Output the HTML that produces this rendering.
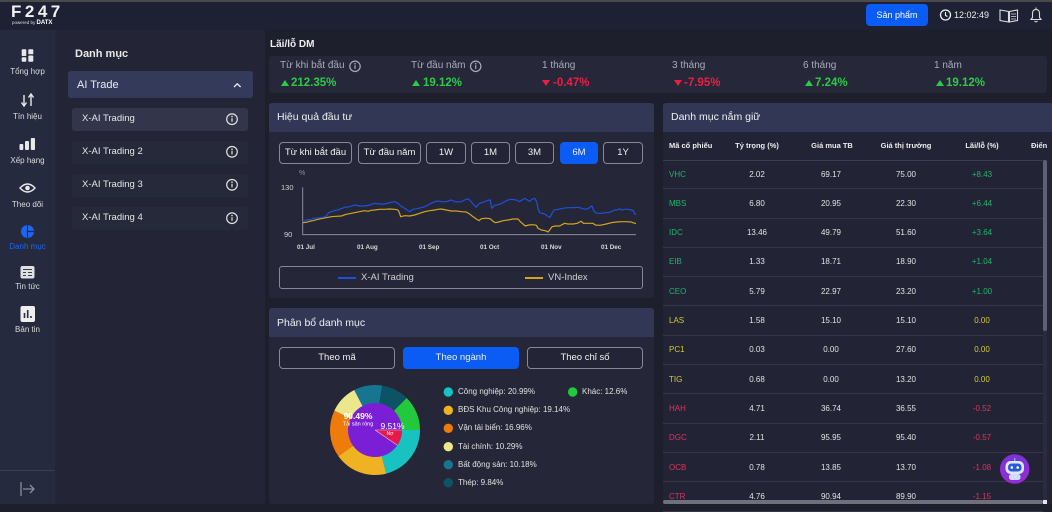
<!DOCTYPE html>
<html><head><meta charset="utf-8">
<style>
*{margin:0;padding:0;box-sizing:border-box}
body{width:1052px;height:504px;overflow:hidden;background:#1d1f2d;font-family:"Liberation Sans","Noto Sans CJK SC",sans-serif;color:#e6e6e6;position:relative}
.a{position:absolute}
.t{position:absolute;white-space:nowrap;height:12px;line-height:12px}
.c{text-align:center}
.btn{position:absolute;border:1px solid #858896;border-radius:4px;color:#f0f0f0;font-size:9.5px;text-align:center;background:#232536}
.blue{background:#0b5cf4;border-color:#0b5cf4}
.tri-up{position:absolute;width:0;height:0;border-left:4px solid transparent;border-right:4px solid transparent;border-bottom:6px solid #2bcb47}
.tri-dn{position:absolute;width:0;height:0;border-left:4px solid transparent;border-right:4px solid transparent;border-top:6px solid #ee1d45}
.g{color:#2bcb47}.r{color:#ee1d45}
.sb{font-size:8px;color:#dcdcdc;width:55px;text-align:center;left:0}
.item{position:absolute;left:72px;width:176px;height:23px;border-radius:3px;background:#262939}
.row{position:absolute;left:663px;width:380px;height:29.3px;border-bottom:1px solid #343749}
.row div{position:absolute;top:8.6px;height:12px;line-height:12px;font-size:8px;white-space:nowrap}
.row .s{left:6px}
.row .n1{left:64px;width:60px;text-align:center;color:#e2e2e2}
.row .n2{left:138px;width:60px;text-align:center;color:#e2e2e2}
.row .n3{left:213px;width:60px;text-align:center;color:#e2e2e2}
.row .n4{left:289px;width:60px;text-align:center}
.tg{color:#1db46d}.ty{color:#d2cc2b}.tr{color:#e0325a}
.th{position:absolute;top:140px;height:12px;line-height:12px;font-size:7.5px;font-weight:bold;color:#ececec;white-space:nowrap}
.lg{position:absolute;font-size:8px;color:#e0e0e0;white-space:nowrap;height:12px;line-height:12px}
</style></head><body>

<!-- top bar -->
<div class="a" style="left:0;top:0;width:1052px;height:30px;background:#1e2134;border-top:2px solid #4a4a4a"></div>
<div class="t" style="left:11px;top:2px;height:20px;line-height:20px;font-size:17px;font-weight:bold;letter-spacing:3.5px;color:#f2f2f2">F247</div>
<div class="t" style="left:12px;top:17px;font-size:4.5px;color:#ddd">powered by <b style="font-size:6px;color:#fff">DATX</b></div>
<div class="a" style="left:866px;top:4px;width:62px;height:22px;background:#0b5cf4;border-radius:4px;font-size:9px;line-height:22px;text-align:center;color:#fff">Sản phẩm</div>
<div class="t" style="left:954px;top:9px;font-size:9px;color:#eee">12:02:49</div>

<!-- sidebar -->
<div class="a" style="left:0;top:30px;width:55px;height:474px;background:#262a3e"></div>
<div class="a" style="left:55px;top:30px;width:210px;height:474px;background:#232536"></div>
<div class="a" style="left:0;top:470px;width:55px;height:1px;background:#3b3e52"></div>
<div class="t sb" style="top:66px">Tổng hợp</div>
<div class="t sb" style="top:111px">Tín hiệu</div>
<div class="t sb" style="top:155px">Xếp hạng</div>
<div class="t sb" style="top:199px">Theo dõi</div>
<div class="t sb" style="top:241px;color:#1a66f5">Danh mục</div>
<div class="t sb" style="top:281px">Tin tức</div>
<div class="t sb" style="top:324px">Bản tin</div>

<!-- left panel -->
<div class="t" style="left:75px;top:48px;font-size:11px;font-weight:bold;color:#e8e8e8">Danh mục</div>
<div class="a" style="left:68px;top:71px;width:185px;height:27px;background:#343a5a;border-radius:3px"></div>
<div class="t" style="left:77px;top:79px;font-size:11px;color:#ececec">AI Trade</div>
<div class="item" style="top:108px;background:#33364a"></div>
<div class="item" style="top:141px"></div>
<div class="item" style="top:174px"></div>
<div class="item" style="top:207px"></div>
<div class="t" style="left:82px;top:113px;font-size:9.5px;color:#e6e6e6">X-AI Trading</div>
<div class="t" style="left:82px;top:146px;font-size:9.5px;color:#e6e6e6">X-AI Trading 2</div>
<div class="t" style="left:82px;top:179px;font-size:9.5px;color:#e6e6e6">X-AI Trading 3</div>
<div class="t" style="left:82px;top:212px;font-size:9.5px;color:#e6e6e6">X-AI Trading 4</div>

<!-- Lai lo DM -->
<div class="t" style="left:270px;top:39px;font-size:10px;font-weight:bold;color:#eee">Lãi/lỗ DM</div>
<div class="a" style="left:269px;top:56px;width:778px;height:37px;background:#262839;border-radius:3px"></div>
<div class="t" style="left:280px;top:60px;font-size:10px;color:#a9acb8">Từ khi bắt đầu</div>
<div class="t" style="left:411px;top:60px;font-size:10px;color:#a9acb8">Từ đầu năm</div>
<div class="t" style="left:542px;top:60px;font-size:10px;color:#a9acb8">1 tháng</div>
<div class="t" style="left:672px;top:60px;font-size:10px;color:#a9acb8">3 tháng</div>
<div class="t" style="left:803px;top:60px;font-size:10px;color:#a9acb8">6 tháng</div>
<div class="t" style="left:934px;top:60px;font-size:10px;color:#a9acb8">1 năm</div>
<div class="tri-up" style="left:281px;top:80px"></div>
<div class="t g" style="left:291px;top:77px;font-size:11.5px;font-weight:bold">212.35%</div>
<div class="tri-up" style="left:412px;top:80px"></div>
<div class="t g" style="left:423px;top:77px;font-size:11.5px;font-weight:bold">19.12%</div>
<div class="tri-dn" style="left:542px;top:80px"></div>
<div class="t r" style="left:553px;top:77px;font-size:11.5px;font-weight:bold">-0.47%</div>
<div class="tri-dn" style="left:674px;top:80px"></div>
<div class="t r" style="left:684px;top:77px;font-size:11.5px;font-weight:bold">-7.95%</div>
<div class="tri-up" style="left:805px;top:80px"></div>
<div class="t g" style="left:815px;top:77px;font-size:11.5px;font-weight:bold">7.24%</div>
<div class="tri-up" style="left:936px;top:80px"></div>
<div class="t g" style="left:946px;top:77px;font-size:11.5px;font-weight:bold">19.12%</div>

<!-- Hieu qua dau tu -->
<div class="a" style="left:269px;top:103px;width:385px;height:195px;background:#252738;border-radius:3px"></div>
<div class="a" style="left:269px;top:103px;width:385px;height:29px;background:#333756;border-radius:3px 3px 0 0"></div>
<div class="t" style="left:277px;top:111px;font-size:10.5px;color:#f0f0f0">Hiệu quả đầu tư</div>
<div class="btn" style="left:279px;top:142px;width:73px;height:22px;line-height:20px">Từ khi bắt đầu</div>
<div class="btn" style="left:358px;top:142px;width:63px;height:22px;line-height:20px">Từ đầu năm</div>
<div class="btn" style="left:426px;top:142px;width:40px;height:22px;line-height:20px">1W</div>
<div class="btn" style="left:471px;top:142px;width:39px;height:22px;line-height:20px">1M</div>
<div class="btn" style="left:515px;top:142px;width:39px;height:22px;line-height:20px">3M</div>
<div class="btn blue" style="left:560px;top:142px;width:38px;height:22px;line-height:20px">6M</div>
<div class="btn" style="left:603px;top:142px;width:40px;height:22px;line-height:20px">1Y</div>
<div class="t" style="left:299px;top:168px;font-size:7px;color:#8d909c">%</div>
<div class="t" style="left:281px;top:182px;font-size:7.5px;color:#d0d0d0">130</div>
<div class="t" style="left:284px;top:229px;font-size:7.5px;color:#d0d0d0">90</div>
<div class="t" style="left:297px;top:242px;font-size:6.3px;font-weight:bold;color:#d8d8d8">01 Jul</div>
<div class="t" style="left:357px;top:242px;font-size:6.3px;font-weight:bold;color:#d8d8d8">01 Aug</div>
<div class="t" style="left:419px;top:242px;font-size:6.3px;font-weight:bold;color:#d8d8d8">01 Sep</div>
<div class="t" style="left:480px;top:242px;font-size:6.3px;font-weight:bold;color:#d8d8d8">01 Oct</div>
<div class="t" style="left:541px;top:242px;font-size:6.3px;font-weight:bold;color:#d8d8d8">01 Nov</div>
<div class="t" style="left:601px;top:242px;font-size:6.3px;font-weight:bold;color:#d8d8d8">01 Dec</div>
<div class="a" style="left:279px;top:266px;width:364px;height:23px;border:1px solid #858896;border-radius:3px"></div>
<div class="a" style="left:338px;top:277px;width:18px;height:1.5px;background:#1f50d8"></div>
<div class="t" style="left:361px;top:272px;font-size:9.5px;color:#cfcfcf">X-AI Trading</div>
<div class="a" style="left:525px;top:277px;width:18px;height:1.5px;background:#d4a51c"></div>
<div class="t" style="left:548px;top:272px;font-size:9.5px;color:#cfcfcf">VN-Index</div>

<!-- Phan bo danh muc -->
<div class="a" style="left:269px;top:308px;width:385px;height:196px;background:#252738;border-radius:3px"></div>
<div class="a" style="left:269px;top:308px;width:385px;height:29px;background:#333756;border-radius:3px 3px 0 0"></div>
<div class="t" style="left:277px;top:317px;font-size:10.5px;color:#f0f0f0">Phân bổ danh mục</div>
<div class="btn" style="left:279px;top:347px;width:116px;height:22px;line-height:20px">Theo mã</div>
<div class="btn blue" style="left:403px;top:347px;width:116px;height:22px;line-height:20px">Theo ngành</div>
<div class="btn" style="left:527px;top:347px;width:116px;height:22px;line-height:20px">Theo chỉ số</div>
<div class="lg" style="left:458px;top:386px">Công nghiệp: 20.99%</div>
<div class="lg" style="left:458px;top:404px">BĐS Khu Công nghiệp: 19.14%</div>
<div class="lg" style="left:458px;top:422px">Vận tải biển: 16.96%</div>
<div class="lg" style="left:458px;top:441px">Tài chính: 10.29%</div>
<div class="lg" style="left:458px;top:459px">Bất động sản: 10.18%</div>
<div class="lg" style="left:458px;top:477px">Thép: 9.84%</div>
<div class="lg" style="left:582px;top:386px">Khác: 12.6%</div>

<!-- Danh muc nam giu -->
<div class="a" style="left:663px;top:103px;width:389px;height:401px;background:#222435;border-radius:3px 0 0 0"></div>
<div class="a" style="left:663px;top:103px;width:389px;height:29px;background:#333756;border-radius:3px 0 0 0"></div>
<div class="t" style="left:671px;top:111px;font-size:10.5px;color:#f0f0f0">Danh mục nắm giữ</div>
<div class="th" style="left:669px">Mã cổ phiếu</div>
<div class="th" style="left:717px;width:80px;text-align:center">Tỷ trọng (%)</div>
<div class="th" style="left:792px;width:80px;text-align:center">Giá mua TB</div>
<div class="th" style="left:866px;width:80px;text-align:center">Giá thị trường</div>
<div class="th" style="left:942px;width:80px;text-align:center">Lãi/lỗ (%)</div>
<div class="th" style="left:1031px">Điển</div>
<div class="a" style="left:663px;top:160px;width:380px;height:1px;background:#3a3d50"></div>

<div class="row" style="top:160px"><div class="s tg">VHC</div><div class="n1">2.02</div><div class="n2">69.17</div><div class="n3">75.00</div><div class="n4 tg">+8.43</div></div>
<div class="row" style="top:189.3px"><div class="s tg">MBS</div><div class="n1">6.80</div><div class="n2">20.95</div><div class="n3">22.30</div><div class="n4 tg">+6.44</div></div>
<div class="row" style="top:218.6px"><div class="s tg">IDC</div><div class="n1">13.46</div><div class="n2">49.79</div><div class="n3">51.60</div><div class="n4 tg">+3.64</div></div>
<div class="row" style="top:247.9px"><div class="s tg">EIB</div><div class="n1">1.33</div><div class="n2">18.71</div><div class="n3">18.90</div><div class="n4 tg">+1.04</div></div>
<div class="row" style="top:277.2px"><div class="s tg">CEO</div><div class="n1">5.79</div><div class="n2">22.97</div><div class="n3">23.20</div><div class="n4 tg">+1.00</div></div>
<div class="row" style="top:306.5px"><div class="s ty">LAS</div><div class="n1">1.58</div><div class="n2">15.10</div><div class="n3">15.10</div><div class="n4 ty">0.00</div></div>
<div class="row" style="top:335.8px"><div class="s ty">PC1</div><div class="n1">0.03</div><div class="n2">0.00</div><div class="n3">27.60</div><div class="n4 ty">0.00</div></div>
<div class="row" style="top:365.1px"><div class="s ty">TIG</div><div class="n1">0.68</div><div class="n2">0.00</div><div class="n3">13.20</div><div class="n4 ty">0.00</div></div>
<div class="row" style="top:394.4px"><div class="s tr">HAH</div><div class="n1">4.71</div><div class="n2">36.74</div><div class="n3">36.55</div><div class="n4 tr">-0.52</div></div>
<div class="row" style="top:423.7px"><div class="s tr">DGC</div><div class="n1">2.11</div><div class="n2">95.95</div><div class="n3">95.40</div><div class="n4 tr">-0.57</div></div>
<div class="row" style="top:453px"><div class="s tr">OCB</div><div class="n1">0.78</div><div class="n2">13.85</div><div class="n3">13.70</div><div class="n4 tr">-1.08</div></div>
<div class="row" style="top:482.3px"><div class="s tr">CTR</div><div class="n1">4.76</div><div class="n2">90.94</div><div class="n3">89.90</div><div class="n4 tr">-1.15</div></div>

<!-- scrollbars -->
<div class="a" style="left:1043px;top:160px;width:4px;height:340px;background:#2a2c3c"></div>
<div class="a" style="left:1043px;top:160px;width:4px;height:171px;background:#5e6170;border-radius:2px"></div>
<div class="a" style="left:663px;top:500px;width:380px;height:4px;background:#6e717d;border-radius:2px"></div>
<div class="a" style="left:1043px;top:500px;width:4px;height:4px;background:#e8e8e8"></div>

<!-- donut labels (over svg later) -->
<svg class="a" style="left:0;top:0" width="1052" height="504" viewBox="0 0 1052 504">
  <!-- top bar icons -->
  <circle cx="945.5" cy="15" r="5" fill="none" stroke="#eee" stroke-width="1.3"/>
  <polyline points="945.5,12 945.5,15.5 947.5,16.5" fill="none" stroke="#eee" stroke-width="1.1"/>
  <path d="M1000,10 L1008.5,11.5 L1008.5,22 L1000,20.5 Z M1017.5,10 L1009.5,11.5 L1009.5,22 L1017.5,20.5 Z" fill="none" stroke="#ddd" stroke-width="1.1"/>
  <path d="M1011,14 h5 M1011,16.5 h5 M1011,19 h5" stroke="#ddd" stroke-width="0.8"/>
  <path d="M1031,19.5 L1032.5,17.5 L1032.5,13.5 Q1032.5,9.5 1036,9.5 Q1039.5,9.5 1039.5,13.5 L1039.5,17.5 L1041,19.5 Z" fill="none" stroke="#ddd" stroke-width="1.1"/>
  <path d="M1034.5,21 Q1036,22.8 1037.5,21" fill="none" stroke="#ddd" stroke-width="1"/>
  <path d="M1036,7.5 v2" stroke="#ddd" stroke-width="1"/>

  <!-- sidebar icons -->
  <g fill="#e8e8e8">
    <rect x="21.7" y="49.3" width="4.6" height="6.7" rx="0.8"/>
    <rect x="21.7" y="57.3" width="4.6" height="4.4" rx="0.8"/>
    <rect x="28.3" y="49.3" width="5" height="5" rx="0.8"/>
    <rect x="28.3" y="55.5" width="5" height="6.2" rx="0.8"/>
    <rect x="19.5" y="144" width="3.8" height="6" rx="1"/>
    <rect x="25" y="141" width="4" height="9" rx="1"/>
    <rect x="30.8" y="138" width="4.2" height="12" rx="1"/>
  </g>
  <g stroke="#e8e8e8" stroke-width="1.4" fill="none">
    <path d="M24,95 v10 M21.5,102.5 L24,106 L26.5,102.5"/>
    <path d="M31,106 v-11 M28.5,97.5 L31,94 L33.5,97.5"/>
    <path d="M20,188 Q27.5,180 35,188 Q27.5,196 20,188 Z"/>
  </g>
  <circle cx="27.5" cy="188" r="2.3" fill="#e8e8e8"/>
  <circle cx="27.5" cy="231.5" r="6.5" fill="#1a66f5"/>
  <path d="M27.5,225 v13 M27.5,231.5 h6.5" stroke="#262a3e" stroke-width="1.2"/>
  <rect x="20.5" y="266" width="14" height="12.5" rx="2" fill="#e0e0e0"/>
  <path d="M23,269.5 h9 M23,272.5 h3 M28,272.5 h4 M23,275.5 h3 M28,275.5 h4" stroke="#3a3d50" stroke-width="1"/>
  <rect x="20.5" y="306" width="14.5" height="16" rx="2" fill="#eeeeee"/>
  <path d="M24.5,318 v-5 M27.7,318 v-8 M31,318 v-2" stroke="#2a2d40" stroke-width="1.6"/>
  <path d="M21,482 v14 M23,489 h11 M30,485 L34,489 L30,493" stroke="#8a8c96" stroke-width="1.3" fill="none"/>

  <!-- panel icons -->
  <polyline points="234,87 237.3,83.8 240.6,87" fill="none" stroke="#eee" stroke-width="1.3"/>
  <g fill="none" stroke="#e0e0e0" stroke-width="1.2">
    <circle cx="232" cy="119.2" r="5.3"/>
    <circle cx="232" cy="151.8" r="5.3"/>
    <circle cx="232" cy="184.8" r="5.3"/>
    <circle cx="232" cy="218.2" r="5.3"/>
    <circle cx="355" cy="66.3" r="5.2" stroke="#a9acb8"/>
    <circle cx="475.7" cy="66.3" r="5.2" stroke="#a9acb8"/>
  </g>
  <g stroke="#e0e0e0" stroke-width="1.2">
    <path d="M232,118.2 v3.6 M232,150.8 v3.6 M232,183.8 v3.6 M232,217.2 v3.6"/>
    <path d="M355,65.3 v3.6 M475.7,65.3 v3.6" stroke="#a9acb8"/>
  </g>
  <g fill="#e0e0e0">
    <circle cx="232" cy="116.6" r="0.8"/><circle cx="232" cy="149.2" r="0.8"/>
    <circle cx="232" cy="182.2" r="0.8"/><circle cx="232" cy="215.6" r="0.8"/>
    <circle cx="355" cy="63.7" r="0.8" fill="#a9acb8"/><circle cx="475.7" cy="63.7" r="0.8" fill="#a9acb8"/>
  </g>

  <!-- chart -->
  <g transform="translate(268,100) scale(0.333333)">
    <path d="M104,262 V404 H1104" fill="none" stroke="#8a8d99" stroke-width="3"/>
    <polyline fill="none" stroke="#d4a51c" stroke-width="3.6" stroke-linejoin="round" points="104,368 115,367 125,364 135,362 150,358 165,355 180,352 190,350 205,349 220,348 235,343 250,340 265,337 280,334 290,332 300,334 310,331 320,330 335,328 350,328 365,327 380,328 388,329 393,335 398,350 410,347 425,348 440,345 455,340 470,335 485,332 500,330 510,328 520,327 535,330 550,333 565,333 580,335 595,336 605,342 615,350 625,357 633,362 640,356 650,355 660,355 668,357 675,364 682,368 692,366 705,362 720,360 735,357 750,357 757,365 765,372 772,378 782,375 795,374 805,376 810,385 820,390 832,392 840,396 845,390 852,380 862,378 875,378 882,374 890,370 900,372 915,372 928,370 935,366 940,364 946,370 955,370 965,370 975,370 982,375 995,376 1005,374 1015,372 1030,368 1045,366 1060,365 1075,365 1090,366 1100,370 1104,370"/>
    <polyline fill="none" stroke="#1f50d8" stroke-width="3.6" stroke-linejoin="round" points="104,365 112,362 120,358 128,360 135,355 150,354 165,352 175,348 182,338 190,335 200,332 215,328 230,322 245,320 260,315 275,318 290,318 305,315 320,310 335,312 350,312 365,308 380,305 390,310 398,318 410,325 425,335 435,328 445,326 460,323 470,320 480,315 490,310 500,305 510,303 520,305 535,305 550,300 565,306 580,305 590,300 598,296 605,300 615,312 625,322 632,312 640,308 650,305 660,301 667,300 670,318 672,325 680,316 690,314 700,311 710,305 720,300 730,298 745,300 755,305 762,300 770,295 778,300 785,304 792,298 800,295 806,305 810,325 815,338 830,342 838,348 846,352 852,340 858,330 870,328 885,325 900,323 915,323 930,322 945,326 955,328 962,325 968,320 972,318 976,330 982,338 990,340 1000,340 1010,338 1020,338 1030,335 1040,330 1048,330 1055,326 1060,330 1070,328 1080,328 1090,330 1096,332 1100,342 1104,342"/>
  </g>

  <!-- donut -->
  <path d="M375,430 L420,430 A45,45 0 0 1 386.22,473.58 Z" fill="#17c2c0"/>
  <path d="M375,430 L386.22,473.58 A45,45 0 0 1 338.38,456.15 Z" fill="#efb222"/>
  <path d="M375,430 L338.38,456.15 A45,45 0 0 1 334.39,410.61 Z" fill="#ee7b0a"/>
  <path d="M375,430 L334.39,410.61 A45,45 0 0 1 354.27,390.06 Z" fill="#ece68c"/>
  <path d="M375,430 L354.27,390.06 A45,45 0 0 1 382.21,385.58 Z" fill="#167691"/>
  <path d="M375,430 L382.21,385.58 A45,45 0 0 1 406.62,397.98 Z" fill="#0c5366"/>
  <path d="M375,430 L406.62,397.98 A45,45 0 0 1 420,430 Z" fill="#22c93c"/>
  <circle cx="375" cy="430" r="27" fill="#7a1fd6"/>
  <path d="M375,430 L402,430 A27,27 0 0 1 397.32,445.19 Z" fill="#e6194a"/>
  <path d="M375,430 L402,430 M375,430 L397.32,445.19" stroke="#e8c0e8" stroke-width="0.6"/>
  <text x="358" y="419" font-family="Liberation Sans, sans-serif" font-size="8.5" font-weight="bold" fill="#fff" text-anchor="middle">90.49%</text>
  <text x="358" y="425.3" font-family="Liberation Sans, sans-serif" font-size="5.5" fill="#fff" text-anchor="middle">Tài sản ròng</text>
  <text x="392.5" y="429" font-family="Liberation Sans, sans-serif" font-size="8.5" fill="#fff" text-anchor="middle">9.51%</text>
  <text x="390" y="435" font-family="Liberation Sans, sans-serif" font-size="5" fill="#fff" text-anchor="middle">Nợ</text>

  <!-- legend dots -->
  <circle cx="448.3" cy="392" r="4.7" fill="#17c2c0"/>
  <circle cx="448.3" cy="410.3" r="4.7" fill="#efb222"/>
  <circle cx="448.3" cy="428.3" r="4.7" fill="#ee7b0a"/>
  <circle cx="448.3" cy="446.7" r="4.7" fill="#ece68c"/>
  <circle cx="448.3" cy="464.7" r="4.7" fill="#167691"/>
  <circle cx="448.3" cy="482.7" r="4.7" fill="#0c5366"/>
  <circle cx="572.7" cy="392" r="4.7" fill="#22c93c"/>

  <!-- chatbot -->
  <defs><radialGradient id="bot" cx="50%" cy="40%" r="60%"><stop offset="0" stop-color="#5a3bd8"/><stop offset="1" stop-color="#9b2bd6"/></radialGradient></defs>
  <circle cx="1014.7" cy="469" r="14.7" fill="url(#bot)"/>
  <rect x="1005.5" y="461" width="18.5" height="13" rx="5" fill="#dfe8ff"/>
  <rect x="1008" y="463.5" width="13.5" height="8" rx="3.5" fill="#2b59d9"/>
  <circle cx="1011.8" cy="467.5" r="1.3" fill="#fff"/>
  <circle cx="1017.7" cy="467.5" r="1.3" fill="#fff"/>
  <rect x="1009" y="474" width="11.5" height="6" rx="2.5" fill="#cfdcff"/>
  <path d="M1014.7,461 v-3" stroke="#8fb0ff" stroke-width="1.2"/>
</svg>
</body></html>
